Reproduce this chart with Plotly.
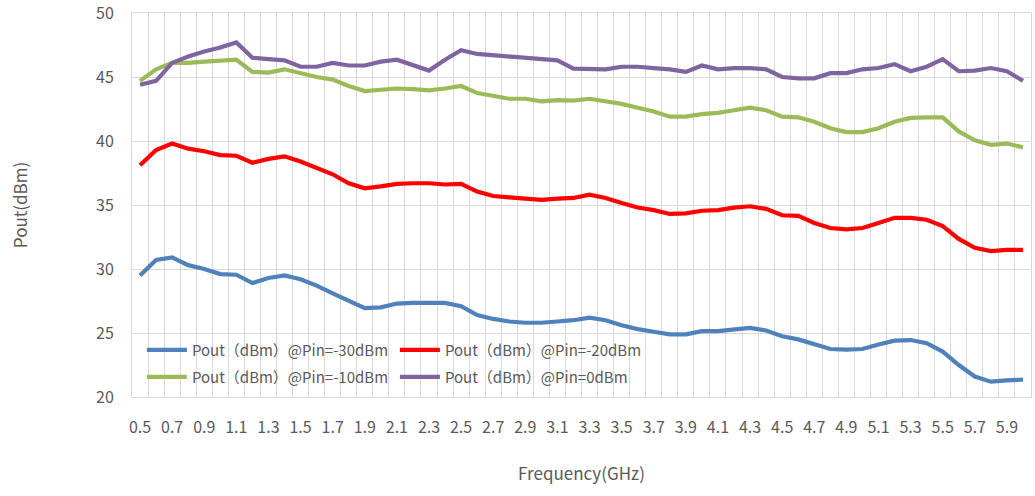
import plotly.graph_objects as go

freq = [round(0.5 + 0.1 * i, 1) for i in range(56)]
tick_labels = ["0.5", "0.7", "0.9", "1.1", "1.3", "1.5", "1.7", "1.9", "2.1", "2.3", "2.5", "2.7", "2.9",
               "3.1", "3.3", "3.5", "3.7", "3.9", "4.1", "4.3", "4.5", "4.7", "4.9", "5.1", "5.3", "5.5",
               "5.7", "5.9"]

pout_m30 = [29.5, 30.7, 30.9, 30.3, 30.0, 29.6, 29.55, 28.9, 29.3, 29.5, 29.2, 28.7, 28.1, 27.5,
            26.95, 27.0, 27.3, 27.35, 27.35, 27.35, 27.1, 26.4, 26.1, 25.9, 25.8, 25.8, 25.9, 26.0,
            26.2, 26.0, 25.6, 25.3, 25.1, 24.9, 24.9, 25.15, 25.15, 25.3, 25.4, 25.2, 24.75,
            24.5, 24.1, 23.75, 23.7, 23.75, 24.1, 24.4, 24.45, 24.2, 23.55, 22.5, 21.6, 21.2, 21.3, 21.35]

pout_m20 = [38.1, 39.3, 39.8, 39.4, 39.2, 38.9, 38.85, 38.3, 38.6, 38.8, 38.4, 37.9, 37.4, 36.7,
            36.3, 36.45, 36.65, 36.7, 36.7, 36.6, 36.65, 36.05, 35.7, 35.6, 35.5, 35.4, 35.5, 35.55,
            35.8, 35.55, 35.15, 34.8, 34.6, 34.3, 34.35, 34.55, 34.6, 34.8, 34.9, 34.7, 34.2,
            34.15, 33.6, 33.2, 33.1, 33.2, 33.6, 34.0, 34.0, 33.85, 33.35, 32.35, 31.65, 31.4, 31.5, 31.5]

pout_m10 = [44.7, 45.6, 46.1, 46.1, 46.2, 46.25, 46.35, 45.4, 45.35, 45.6, 45.3, 45.0, 44.8, 44.3,
            43.9, 44.0, 44.1, 44.05, 43.95, 44.1, 44.3, 43.75, 43.5, 43.3, 43.3, 43.1, 43.2, 43.15,
            43.3, 43.1, 42.9, 42.6, 42.3, 41.9, 41.9, 42.1, 42.2, 42.4, 42.6, 42.4, 41.9,
            41.85, 41.5, 41.0, 40.7, 40.7, 41.0, 41.5, 41.8, 41.85, 41.85, 40.75, 40.05, 39.7, 39.8, 39.5]

pout_0 = [44.4, 44.7, 46.1, 46.6, 47.0, 47.3, 47.7, 46.5, 46.4, 46.3, 45.8, 45.8, 46.1, 45.9,
          45.9, 46.2, 46.35, 45.9, 45.5, 46.35, 47.1, 46.8, 46.7, 46.55, 46.5, 46.35, 46.3, 45.65,
          45.6, 45.6, 45.8, 45.8, 45.7, 45.6, 45.4, 45.9, 45.6, 45.7, 45.7, 45.6, 45.0,
          44.9, 44.9, 45.3, 45.3, 45.6, 45.7, 46.0, 45.45, 45.8, 46.4, 45.45, 45.5, 45.7, 45.45, 44.7]

series = [
    ("Pout（dBm）@Pin=-30dBm", pout_m30, "#4F81BD", "legend"),
    ("Pout（dBm）@Pin=-20dBm", pout_m20, "#FF0000", "legend"),
    ("Pout（dBm）@Pin=-10dBm", pout_m10, "#9BBB59", "legend2"),
    ("Pout（dBm）@Pin=0dBm", pout_0, "#8064A2", "legend2"),
]

FONT = "Noto Sans CJK SC"
GRAY = "#595959"
GRID = "#D9D9D9"

fig = go.Figure()
for name, vals, color, leg in series:
    fig.add_trace(go.Scatter(x=freq, y=vals, mode="lines", name=name,
                             line=dict(color=color, width=4.2), legend=leg))

legend_common = dict(orientation="h", xanchor="left", yanchor="middle",
                     bgcolor="rgba(0,0,0,0)", borderwidth=0, itemwidth=40,
                     entrywidth=198, entrywidthmode="pixels",
                     font=dict(family=FONT, size=15, color=GRAY), itemclick=False)

fig.update_layout(
    width=1035, height=496,
    margin=dict(l=132, r=4, t=13, b=99),
    paper_bgcolor="white", plot_bgcolor="white",
    font=dict(family=FONT, color=GRAY),
    hovermode=False,
    legend=dict(x=0.011, y=0.122, **legend_common),
    legend2=dict(x=0.011, y=0.052, **legend_common),
    xaxis=dict(
        range=[0.45, 6.05], tickmode="array", tickvals=[float(t) for t in tick_labels],
        ticktext=tick_labels, showgrid=False, zeroline=False, ticks="", automargin=False,
        tickfont=dict(family=FONT, size=16, color=GRAY), ticklabelstandoff=16,
        minor=dict(tick0=0.45, dtick=0.1, showgrid=True, gridcolor=GRID, gridwidth=1, ticks=""),
        showline=True, linecolor=GRID, linewidth=1, mirror=True,
        title=dict(text="Frequency(GHz)", font=dict(family=FONT, size=17, color=GRAY), standoff=30),
    ),
    yaxis=dict(
        range=[20, 50], dtick=5, tick0=20, showgrid=True, gridcolor=GRID, gridwidth=1,
        zeroline=False, ticks="", tickfont=dict(family=FONT, size=16, color=GRAY), automargin=False,
        ticklabelstandoff=14, ticklabeloverflow="allow",
        showline=True, linecolor=GRID, linewidth=1, mirror=True,
        title=dict(text="Pout(dBm)", font=dict(family=FONT, size=17, color=GRAY), standoff=64),
    ),
)

fig.write_html("out.html", config={"displayModeBar": False},
               post_script="document.body.style.margin='0px';")
